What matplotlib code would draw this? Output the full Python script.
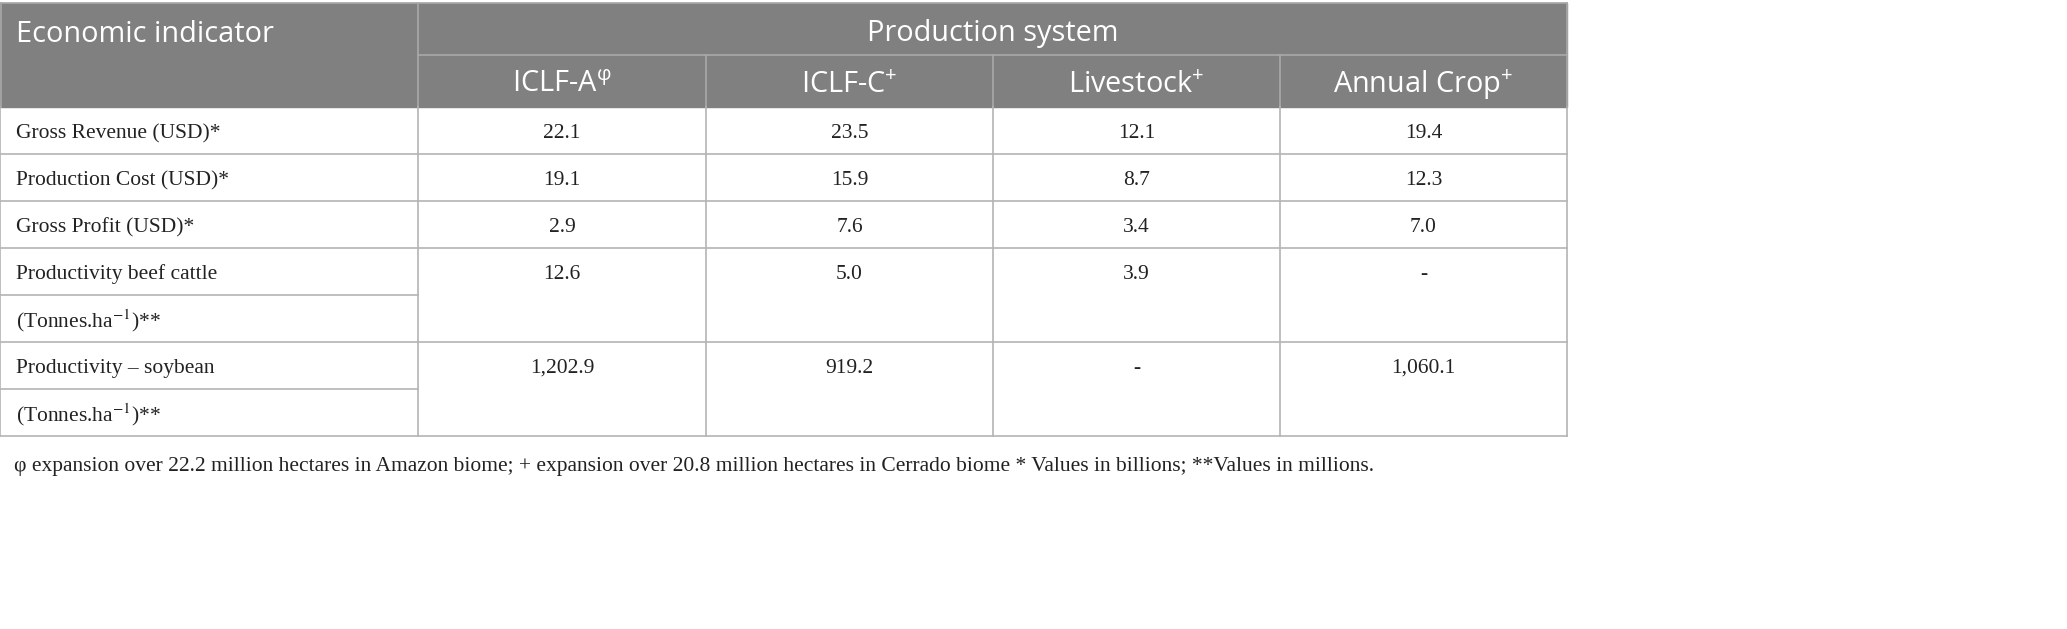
import matplotlib
matplotlib.use("Agg")
import matplotlib.pyplot as plt
from matplotlib.patches import Rectangle

plt.rcParams['mathtext.fontset'] = 'custom'
plt.rcParams['mathtext.rm'] = 'Open Sans'
plt.rcParams['mathtext.it'] = 'Open Sans'

# table content
systems = [r'ICLF-A$^{\mathrm{φ}}$', r'ICLF-C$^{+}$', r'Livestock$^{+}$', r'Annual Crop$^{+}$']
indicators = ['Gross Revenue (USD)*', 'Production Cost (USD)*', 'Gross Profit (USD)*',
              'Productivity beef cattle', 'Productivity \u2013 soybean']
indicator_sub = [None, None, None, '(Tonnes.ha$^{-1}$)**', '(Tonnes.ha$^{-1}$)**']
iclf_a = ['22.1', '19.1', '2.9', '12.6', '1,202.9']
iclf_c = ['23.5', '15.9', '7.6', '5.0', '919.2']
livestock = ['12.1', '8.7', '3.4', '3.9', '-']
annual_crop = ['19.4', '12.3', '7.0', '-', '1,060.1']
footnote = ('φ expansion over 22.2 million hectares in Amazon biome; + expansion over 20.8 million '
            'hectares in Cerrado biome * Values in billions; **Values in millions.')

W, H = 2067, 629
fig = plt.figure(figsize=(W / 100, H / 100), dpi=100)
ax = fig.add_axes([0, 0, 1, 1])
ax.set_xlim(0, W)
ax.set_ylim(H, 0)
ax.axis('off')

cols = [0, 418, 706, 993, 1280, 1567]
top, h1, h2 = 3, 55, 107
row_h = 47
head_bg = '#7f807f'
line_c = '#b4b4b4'
head_line = '#a9a9a9'

# header block
ax.add_patch(Rectangle((0, top), cols[-1], h2 - top, color=head_bg, zorder=0))
ax.plot([cols[1], cols[-1]], [h1, h1], color=head_line, lw=1.2)
ax.plot([cols[1], cols[1]], [top, h2], color=head_line, lw=1.2)
for x in cols[2:-1]:
    ax.plot([x, x], [h1, h2], color=head_line, lw=1.2)
ax.plot([0, cols[-1]], [top, top], color=head_line, lw=1.2)

hfont = dict(family=['Open Sans', 'DejaVu Sans'], color='white', fontsize=20.8)
ax.text(16, (top + h1) / 2 + 6, 'Economic indicator', ha='left', va='center', **hfont)
ax.text((cols[1] + cols[-1]) / 2, (top + h1) / 2 + 5, 'Production system', ha='center', va='center', **hfont)
for i, s in enumerate(systems):
    ax.text((cols[i + 1] + cols[i + 2]) / 2, (h1 + h2) / 2 + 4, s, ha='center', va='center', **hfont)

# body
bfont = dict(family=['Liberation Serif', 'DejaVu Serif'], color='#222222', fontsize=15.5, math_fontfamily='stix')
values = [iclf_a, iclf_c, livestock, annual_crop]
y = h2
for r, label in enumerate(indicators):
    n = 1 if indicator_sub[r] is None else 2
    y0, y1 = y, y + n * row_h
    ax.text(16, y0 + row_h / 2 + 3, label, ha='left', va='center', **bfont)
    if n == 2:
        ax.text(16, y0 + 1.5 * row_h + 2, indicator_sub[r], ha='left', va='center', **bfont)
        ax.plot([0, cols[1]], [y0 + row_h, y0 + row_h], color=line_c, lw=1.2)
    for c, col in enumerate(values):
        ax.text((cols[c + 1] + cols[c + 2]) / 2, y0 + row_h / 2 + 3, col[r], ha='center', va='center', **bfont)
    ax.plot([0, cols[-1]], [y1, y1], color=line_c, lw=1.2)
    y = y1

for x in cols:
    ax.plot([x, x], [h2, y], color=line_c, lw=1.2)
ax.plot([0.6, 0.6], [top, h2], color=head_line, lw=1.2)
ax.plot([cols[-1], cols[-1]], [top, h2], color=head_line, lw=1.2)

ax.text(14, y + 30, footnote, ha='left', va='center', **bfont)

fig.savefig('out.png', dpi=100, facecolor='white')
